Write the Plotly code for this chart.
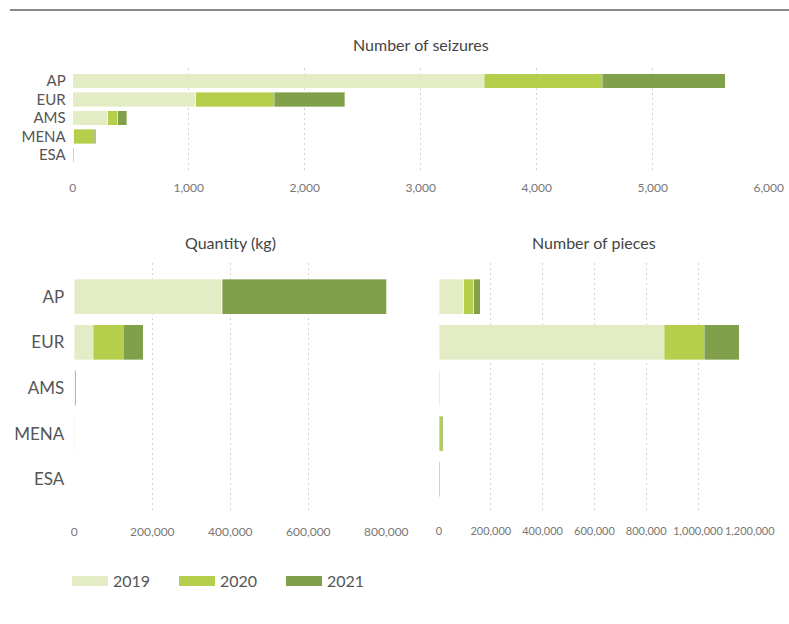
import plotly.graph_objects as go

regions = ["AP", "EUR", "AMS", "MENA", "ESA"]
years = ["2019", "2020", "2021"]
colors = ["#e3ecc4", "#b5ce4b", "#80a04a"]

# Number of seizures
seizures = {
    "2019": [3548, 1060, 302, 10, 5],
    "2020": [1015, 678, 86, 176, 8],
    "2021": [1063, 609, 80, 12, 2],
}
# Quantity (kg)
quantity = {
    "2019": [378000, 48000, 1000, 1500, 200],
    "2020": [1500, 77000, 1500, 500, 100],
    "2021": [422000, 52000, 2500, 200, 50],
}
# Number of pieces
pieces = {
    "2019": [96500, 869000, 1000, 1500, 500],
    "2020": [38500, 155700, 1000, 11500, 4000],
    "2021": [24500, 135000, 3000, 3700, 300],
}

W, H = 789, 624
fig = go.Figure()

panels = [
    (seizures, "x", "y"),
    (quantity, "x2", "y2"),
    (pieces, "x3", "y3"),
]
for data, xa, ya in panels:
    for yr, col in zip(years, colors):
        fig.add_trace(go.Bar(
            x=data[yr], y=regions, orientation="h", name=yr,
            marker=dict(color=col, line=dict(color="rgba(255,255,255,0.6)", width=0.6)),
            xaxis=xa, yaxis=ya, showlegend=False,
        ))

# legend entries drawn as wide swatches
for yr, col in zip(years, colors):
    fig.add_trace(go.Scatter(x=[None], y=[None], mode="lines", name=yr,
                             line=dict(color=col, width=15), xaxis="x", yaxis="y"))


def px(v):
    return v / W


def py(v):
    return 1 - v / H


def grid(size, standoff):
    return dict(showgrid=True, gridcolor="#d2d2d2", griddash="2px,3px", gridwidth=1,
                zeroline=False, showline=False, ticks="", automargin=False,
                tickangle=0, tickformat=",", ticklabelstandoff=standoff,
                tickfont=dict(family="Lato", size=size, color="#777"))


def ylab(size, standoff):
    return dict(showgrid=False, ticks="", automargin=False, ticklabelstandoff=standoff,
                tickfont=dict(family="Lato", size=size, color="#555"))


fig.update_layout(
    width=W, height=H,
    margin=dict(l=0, r=0, t=0, b=0, autoexpand=False),
    paper_bgcolor="white", plot_bgcolor="white",
    font=dict(family="Lato", color="#555"),
    barmode="stack", bargap=0.23,
    xaxis=dict(domain=[px(72.7), px(768.7)], range=[0, 6000], dtick=1000,
               anchor="y", **grid(12, 9)),
    yaxis=dict(domain=[py(170), py(68)], range=[4.81, -0.7], anchor="x",
               **ylab(15, 6)),
    xaxis2=dict(domain=[px(74.3), px(386.3)], range=[0, 800000], dtick=200000,
                anchor="y2", **grid(12, 10)),
    yaxis2=dict(domain=[py(513), py(263)], range=[4.74, -0.74], anchor="x2",
                **ylab(17, 9)),
    xaxis3=dict(domain=[px(439), px(749.8)], range=[0, 1200000], dtick=200000,
                anchor="y3", **grid(11, 10)),
    yaxis3=dict(domain=[py(513), py(263)], range=[4.74, -0.74], anchor="x3",
                showgrid=False, showticklabels=False, automargin=False),
    legend=dict(orientation="h", x=px(67), y=py(581), yanchor="middle", xanchor="left",
                itemwidth=36, entrywidth=56, entrywidthmode="pixels",
                font=dict(family="Lato", size=16, color="#555"),
                traceorder="normal"),
    showlegend=True,
)

# panel titles
titles = [("Number of seizures", (72.7 + 768.7) / 2, 45),
          ("Quantity (kg)", (74.3 + 386.3) / 2, 243),
          ("Number of pieces", (439 + 749.8) / 2, 243)]
for txt, cx, cy in titles:
    fig.add_annotation(text=txt, x=px(cx), y=py(cy), xref="paper", yref="paper",
                       xanchor="center", yanchor="middle", showarrow=False,
                       font=dict(family="Lato", size=16, color="#444"))

# top rule
fig.add_shape(type="line", xref="paper", yref="paper", x0=px(10), x1=1,
              y0=py(10), y1=py(10), line=dict(color="#888", width=2))

fig.write_html("out.html", config={"displayModeBar": False},
               post_script="document.body.style.margin='0';")
